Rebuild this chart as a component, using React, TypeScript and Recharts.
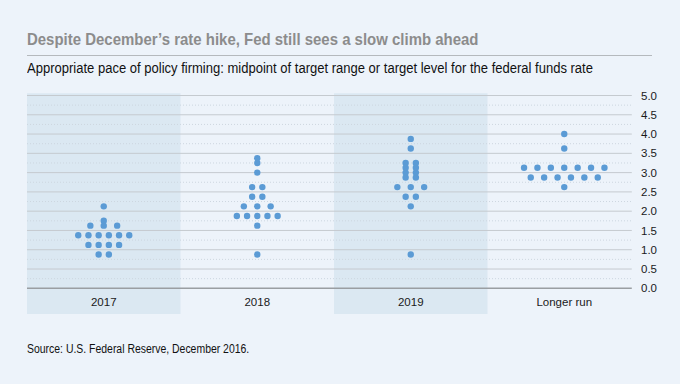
import React from "react"
import {
  ScatterChart,
  Scatter,
  XAxis,
  YAxis,
  ReferenceArea,
  ReferenceLine,
} from "recharts"

// rate levels (percent) and how many participants sit at each one
const categories = ["2017", "2018", "2019", "Longer run"]

const levels2017 = [0.875, 1.125, 1.375, 1.625, 1.75, 2.125]
const counts2017 = [2, 4, 6, 3, 1, 1]

const levels2018 = [0.875, 1.625, 1.875, 2.125, 2.375, 2.625, 3.0, 3.25, 3.375]
const counts2018 = [1, 1, 5, 3, 2, 2, 1, 1, 1]

const levels2019 = [0.875, 2.125, 2.375, 2.625, 2.875, 3.0, 3.125, 3.25, 3.625, 3.875]
const counts2019 = [1, 1, 2, 3, 2, 2, 2, 2, 1, 1]

const levelsLonger = [2.625, 2.875, 3.125, 3.625, 4.0]
const countsLonger = [1, 6, 7, 1, 1]

const yTicks = [0, 0.5, 1, 1.5, 2, 2.5, 3, 3.5, 4, 4.5, 5]
const minorTicks = [0.25, 0.75, 1.25, 1.75, 2.25, 2.75, 3.25, 3.75, 4.25, 4.75]

const BG = "#edf3fa"
const BAND = "#dbe8f2"
const DOT = "#5b9bd5"
const FONT = "'Liberation Sans Narrow', 'Arial Narrow', 'Liberation Sans', sans-serif"

const BAND_PX = 153.5

const columns = [
  { levels: levels2017, counts: counts2017 },
  { levels: levels2018, counts: counts2018 },
  { levels: levels2019, counts: counts2019 },
  { levels: levelsLonger, counts: countsLonger },
]

function buildDots() {
  const pts: { x: number; y: number }[] = []
  columns.forEach((col, ci) => {
    col.levels.forEach((lvl, ri) => {
      const n = col.counts[ri]
      const gapPx = ci === 3 || n === 3 ? 13.4 : 10.2
      for (let j = 0; j < n; j++) {
        const off = ((j - (n - 1) / 2) * gapPx) / BAND_PX
        pts.push({ x: ci + 0.5 + off, y: lvl })
      }
    })
  })
  return pts
}

const dots = buildDots()

const Dot = (props: any) => (
  <circle cx={props.cx} cy={props.cy} r={3.2} fill={DOT} />
)

const narrow = (sx: number): React.CSSProperties => ({
  transform: `scaleX(${sx})`,
  transformOrigin: "0 0",
  whiteSpace: "nowrap",
  position: "absolute",
  left: 27,
})

export default function App() {
  return (
    <div
      style={{
        position: "absolute",
        left: 0,
        top: 0,
        width: 680,
        height: 384,
        background: BG,
        fontFamily: FONT,
        overflow: "hidden",
      }}
    >
      <div
        style={{
          ...narrow(0.88),
          top: 30,
          fontSize: 17,
          fontWeight: "bold",
          color: "#8c8c8c",
        }}
      >
        Despite December’s rate hike, Fed still sees a slow climb ahead
      </div>
      <div
        style={{
          position: "absolute",
          left: 27,
          top: 55,
          width: 625,
          height: 1,
          background: "#b5b9bd",
        }}
      />
      <div style={{ ...narrow(0.93), top: 60, fontSize: 14, color: "#111" }}>
        Appropriate pace of policy firming: midpoint of target range or target level for the federal funds rate
      </div>

      <div style={{ position: "absolute", left: 0, top: 0 }}>
        <ScatterChart
          width={680}
          height={384}
          margin={{ top: 95.5, right: 0, bottom: 69.7, left: 27 }}
        >
          {[0, 2].map((i) => (
            <ReferenceArea
              key={"band" + i}
              x1={i}
              x2={i + 1}
              y1={-0.667}
              y2={5.06}
              fill={BAND}
              fillOpacity={1}
              stroke="none"
              ifOverflow="visible"
            />
          ))}
          {minorTicks.map((v) => (
            <ReferenceLine
              key={"m" + v}
              segment={[
                { x: 0, y: v },
                { x: 3.94, y: v },
              ]}
              stroke="#cdd6df"
              strokeDasharray="1 2"
              ifOverflow="visible"
            />
          ))}
          {yTicks.map((v) => (
            <ReferenceLine
              key={"g" + v}
              segment={[
                { x: 0, y: v },
                { x: 3.94, y: v },
              ]}
              stroke={v === 0 ? "#9a9ea2" : "#c5cacf"}
              strokeWidth={v === 0 ? 1.5 : 1}
              ifOverflow="visible"
            />
          ))}
          <XAxis
            type="number"
            dataKey="x"
            domain={[0, 4]}
            ticks={[0.5, 1.5, 2.5, 3.5]}
            tickFormatter={(v: number) => categories[Math.floor(v)]}
            axisLine={false}
            tickLine={false}
            tickSize={0}
            tickMargin={10}
            height={26}
            tick={{ fontSize: 11.5, fill: "#1a1a1a", fontFamily: FONT }}
            allowDataOverflow
          />
          <YAxis
            type="number"
            dataKey="y"
            orientation="right"
            domain={[0, 5]}
            ticks={yTicks}
            tickFormatter={(v: number) => v.toFixed(1)}
            axisLine={false}
            tickLine={false}
            tickSize={0}
            tickMargin={0}
            width={39}
            tick={{ fontSize: 11.5, fill: "#1a1a1a", fontFamily: FONT, textAnchor: "start" }}
            allowDataOverflow
          />
          <Scatter data={dots} shape={Dot} isAnimationActive={false} />
        </ScatterChart>
      </div>

      <div style={{ ...narrow(0.87), top: 342, fontSize: 12, color: "#111" }}>
        Source: U.S. Federal Reserve, December 2016.
      </div>
    </div>
  )
}
